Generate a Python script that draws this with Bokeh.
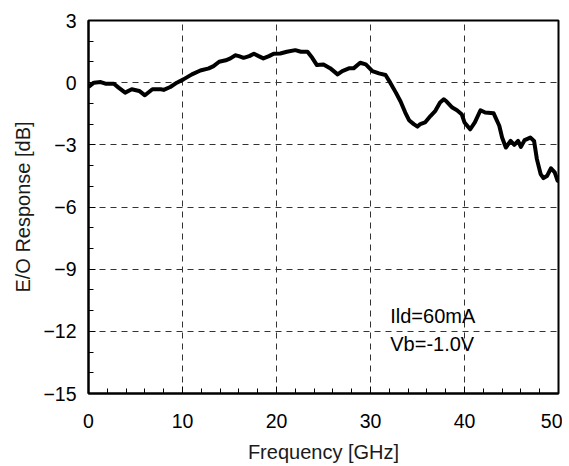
from bokeh.plotting import figure
from bokeh.models import Range1d, SingleIntervalTicker, Label
from bokeh.embed import file_html
from bokeh.resources import INLINE

freq = [0.0, 0.57, 1.3, 1.8, 2.7, 3.2, 3.9, 4.6, 5.4, 6.0, 6.8, 7.7, 8.0, 8.7, 9.4,
        10.1, 11.0, 11.9, 12.8, 13.3, 13.9, 14.6, 15.1, 15.6, 16.0, 16.5, 17.1, 17.6,
        18.1, 18.6, 19.2, 19.7, 20.4, 21.1, 22.0, 22.6, 23.3, 23.8, 24.3, 25.0, 25.7,
        26.5, 27.0, 27.7, 28.2, 28.9, 29.5, 30.2, 30.9, 31.6, 32.1, 32.7, 33.2, 33.7,
        34.1, 34.6, 35.0, 35.3, 35.8, 36.4, 36.9, 37.4, 37.8, 38.1, 38.7, 39.2, 39.7,
        40.0, 40.6, 41.1, 41.7, 42.2, 43.1, 43.7, 44.0, 44.4, 44.9, 45.3, 45.7, 46.0,
        46.4, 47.0, 47.4, 47.7, 48.1, 48.4, 48.8, 49.2, 49.6, 49.9, 50.0]
resp = [-0.21, 0.0, 0.03, -0.05, -0.05, -0.24, -0.48, -0.32, -0.4, -0.61, -0.32, -0.32,
        -0.35, -0.21, 0.0, 0.16, 0.4, 0.59, 0.69, 0.8, 1.01, 1.08, 1.17, 1.32, 1.28, 1.2,
        1.28, 1.4, 1.28, 1.17, 1.28, 1.4, 1.41, 1.49, 1.57, 1.49, 1.49, 1.2, 0.85, 0.88,
        0.7, 0.4, 0.56, 0.69, 0.69, 0.96, 0.88, 0.56, 0.45, 0.37, 0.0, -0.48, -0.91,
        -1.44, -1.81, -2.0, -2.12, -2.0, -1.92, -1.6, -1.36, -0.96, -0.8, -0.91, -1.2,
        -1.33, -1.52, -1.92, -2.25, -1.92, -1.33, -1.44, -1.48, -2.08, -2.65, -3.13,
        -2.81, -3.0, -2.81, -3.1, -2.77, -2.65, -2.81, -3.69, -4.41, -4.61, -4.49,
        -4.13, -4.33, -4.73, -4.75]

x_label = "Frequency [GHz]"
y_label = "E/O Response [dB]"
note_lines = ["Ild=60mA", "Vb=-1.0V"]

FONT = "Liberation Sans"

p = figure(width=562, height=465, output_backend="svg", toolbar_location=None,
           x_range=Range1d(0, 50), y_range=Range1d(-15, 3),
           min_border_left=88, min_border_right=4, min_border_top=20, min_border_bottom=72)

p.outline_line_color = "black"
p.outline_line_width = 2
p.background_fill_color = "white"
p.border_fill_color = "white"

p.xaxis.ticker = SingleIntervalTicker(interval=10, num_minor_ticks=5)
p.yaxis.ticker = SingleIntervalTicker(interval=3, num_minor_ticks=3)

for ax in (p.xaxis[0], p.yaxis[0]):
    ax.axis_line_color = "black"
    ax.axis_line_width = 2
    ax.major_tick_in = 7
    ax.major_tick_out = 0
    ax.minor_tick_in = 5
    ax.minor_tick_out = 0
    ax.major_tick_line_color = "black"
    ax.minor_tick_line_color = "black"
    ax.major_label_text_font = FONT
    ax.major_label_text_font_size = "19.5px"
    ax.major_label_text_color = "black"
    ax.axis_label_text_font = FONT
    ax.axis_label_text_font_size = "20px"
    ax.axis_label_text_font_style = "normal"
    ax.axis_label_text_color = "#1a1a1a"

p.xaxis.axis_label = x_label
p.yaxis.axis_label = y_label
p.xaxis.major_label_standoff = 20
p.yaxis.major_label_standoff = 12
p.xaxis.axis_label_standoff = 10
p.yaxis.axis_label_standoff = 6

for g in (p.xgrid[0], p.ygrid[0]):
    g.grid_line_color = "#333333"
    g.grid_line_dash = "6 5"
    g.grid_line_width = 1

p.line(freq, resp, line_color="black", line_width=4, line_join="round")

p.add_layout(Label(x=32.1, y=-11.28, text=note_lines[0], text_font=FONT,
                   text_font_size="20px", text_baseline="middle", text_color="black"))
p.add_layout(Label(x=32.1, y=-12.6, text=note_lines[1], text_font=FONT,
                   text_font_size="20px", text_baseline="middle", text_color="black"))

open("out.html", "w").write(file_html(p, INLINE))
